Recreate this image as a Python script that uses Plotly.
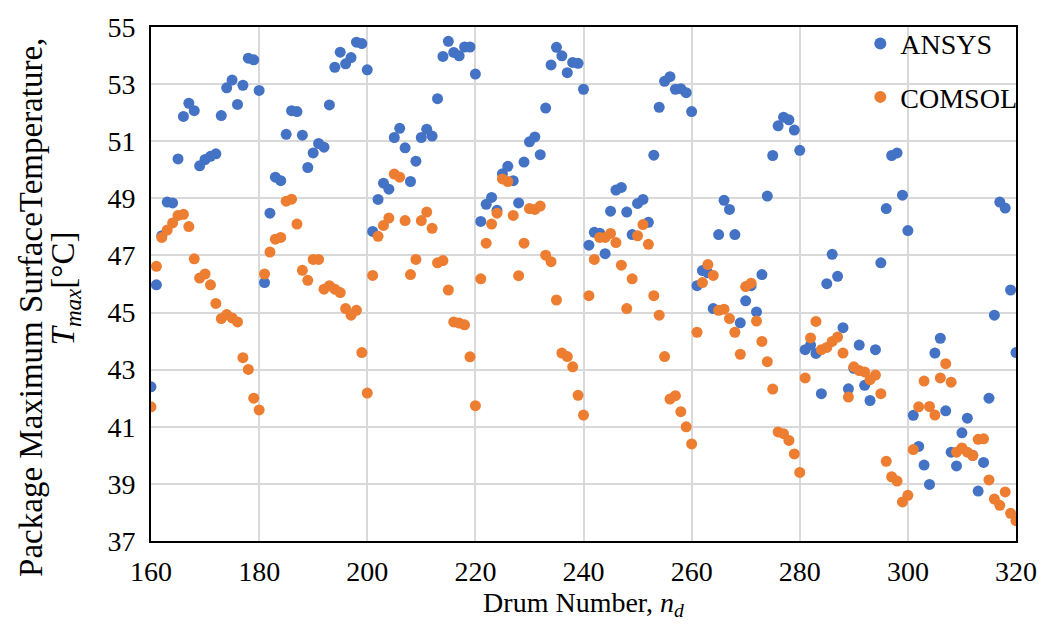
import plotly.graph_objects as go

drums = list(range(160, 321))

ansys = [
    42.4, 45.97, 47.69, 48.87, 48.84, 50.38, 51.87, 52.33, 52.07, 50.14,
    50.36, 50.47, 50.56, 51.90, 52.87, 53.14, 52.29, 52.96, 53.91, 53.85,
    52.78, 46.05, 48.48, 49.74, 49.62, 51.24, 52.07, 52.04, 51.21, 50.08,
    50.59, 50.92, 50.79, 52.27, 53.59, 54.12, 53.71, 53.93, 54.47, 54.42,
    53.50, 47.84, 48.96, 49.53, 49.32, 51.13, 51.45, 50.77, 49.59, 50.30,
    51.13, 51.42, 51.18, 52.49, 53.97, 54.50, 54.11, 53.99, 54.30, 54.30,
    53.35, 48.19, 48.79, 49.03, 48.58, 49.86, 50.12, 49.62, 48.84, 50.27,
    50.98, 51.15, 50.53, 52.16, 53.67, 54.29, 53.99, 53.40, 53.76, 53.73,
    52.82, 47.36, 47.81, 47.78, 47.06, 48.55, 49.29, 49.38, 48.52, 47.73,
    48.82, 48.96, 48.16, 50.51, 52.19, 53.10, 53.26, 52.82, 52.84, 52.70,
    52.04, 45.94, 46.47, 46.39, 45.14, 47.73, 48.93, 48.61, 47.73, 44.64,
    45.41, 45.94, 45.02, 46.33, 49.08, 50.50, 51.54, 51.84, 51.75, 51.39,
    50.68, 43.70, 43.86, 43.57, 42.16, 46.01, 47.04, 46.27, 44.47, 42.33,
    43.05, 43.86, 42.45, 41.92, 43.70, 46.74, 48.64, 50.50, 50.59, 49.11,
    47.87, 41.40, 40.31, 39.66, 38.98, 43.58, 44.10, 41.56, 40.11, 39.63,
    40.79, 41.30, 40.00, 38.75, 39.75, 42.00, 44.91, 48.87, 48.66, 45.79,
    43.60,
]

comsol = [
    41.7, 46.62, 47.63, 47.89, 48.14, 48.40, 48.44, 48.01, 46.88, 46.21,
    46.35, 45.97, 45.32, 44.79, 44.93, 44.81, 44.67, 43.42, 43.01, 42.00,
    41.59, 46.35, 47.12, 47.57, 47.63, 48.90, 48.97, 48.10, 46.48, 46.13,
    46.86, 46.86, 45.82, 45.94, 45.82, 45.70, 45.14, 44.91, 45.08, 43.60,
    42.18, 46.30, 47.67, 48.05, 48.31, 49.85, 49.74, 48.22, 46.33, 46.86,
    48.22, 48.52, 47.95, 46.74, 46.82, 45.79, 44.67, 44.63, 44.57, 43.45,
    41.74, 46.18, 47.43, 48.10, 48.48, 49.68, 49.59, 48.40, 46.29, 47.43,
    48.64, 48.61, 48.73, 47.01, 46.78, 45.44, 43.58, 43.46, 43.10, 42.10,
    41.41, 45.59, 46.86, 47.63, 47.63, 47.77, 47.45, 46.66, 45.14, 46.18,
    47.69, 48.08, 47.39, 45.59, 44.91, 43.46, 41.97, 42.09, 41.53, 41.00,
    40.40, 44.31, 46.05, 46.68, 46.30, 45.08, 45.12, 44.79, 44.31, 43.54,
    45.91, 46.03, 44.70, 43.99, 43.28, 42.32, 40.82, 40.76, 40.52, 40.05,
    39.40, 42.71, 44.11, 44.69, 43.70, 43.78, 43.99, 44.14, 43.58, 42.04,
    43.10, 42.97, 42.92, 42.65, 42.81, 42.16, 39.79, 39.25, 39.10, 38.37,
    38.60, 40.20, 41.70, 42.60, 41.71, 41.41, 42.71, 43.21, 42.56, 40.11,
    40.26, 40.11, 39.99, 40.56, 40.58, 39.14, 38.47, 38.25, 38.72, 37.97,
    37.71,
]

x_ticks = [160, 180, 200, 220, 240, 260, 280, 300, 320]
y_ticks = [37, 39, 41, 43, 45, 47, 49, 51, 53, 55]
y_title_lines = ["Package Maximum SurfaceTemperature,", "<i>T<sub>max</sub></i>[°C]"]

FONT = "Liberation Serif, Times New Roman, serif"

fig = go.Figure()
fig.add_trace(go.Scatter(
    x=drums, y=ansys, mode="markers", name="ANSYS", legendgroup="a",
    marker=dict(color="#4472C4", size=11),
))
fig.add_trace(go.Scatter(
    x=drums, y=comsol, mode="markers", name="COMSOL", legendgroup="c",
    marker=dict(color="#ED7D31", size=11),
))

# two-line y-axis title drawn as rotated annotations (tight line spacing)
fig.add_annotation(text=y_title_lines[0], xref="paper", yref="paper",
                   x=-0.139, y=0.455, textangle=-90, showarrow=False,
                   xanchor="center", yanchor="middle",
                   font=dict(family=FONT, size=33, color="black"))
fig.add_annotation(text=y_title_lines[1], xref="paper", yref="paper",
                   x=-0.099, y=0.492, textangle=-90, showarrow=False,
                   xanchor="center", yanchor="middle",
                   font=dict(family=FONT, size=33, color="black"))

fig.update_layout(
    width=1049, height=632,
    margin=dict(l=151, r=27, t=20, b=91),
    paper_bgcolor="white", plot_bgcolor="white",
    font=dict(family=FONT, size=28, color="black"),
    showlegend=True,
    legend=dict(
        x=0.82, y=1.016, xanchor="left", yanchor="top",
        bgcolor="rgba(0,0,0,0)", borderwidth=0,
        font=dict(family=FONT, size=28, color="black"),
        traceorder="grouped", tracegroupgap=14, itemsizing="constant",
        itemwidth=30,
    ),
    xaxis=dict(
        range=[160, 320], tickvals=x_ticks, ticktext=[str(v) for v in x_ticks],
        showgrid=True, gridcolor="#d9d9d9", gridwidth=1.5,
        showline=True, linecolor="black", linewidth=2, mirror=True,
        ticks="outside", ticklen=4, tickcolor="rgba(0,0,0,0)", zeroline=False,
        tickfont=dict(family=FONT, size=28),
        title=dict(text="Drum Number, <i>n<sub>d</sub></i>",
                   font=dict(family=FONT, size=28), standoff=6),
    ),
    yaxis=dict(
        range=[37, 55], tickvals=y_ticks, ticktext=[str(v) for v in y_ticks],
        showgrid=True, gridcolor="#d9d9d9", gridwidth=1.5,
        showline=True, linecolor="black", linewidth=2, mirror=True,
        ticks="outside", ticklen=8, tickcolor="rgba(0,0,0,0)", zeroline=False,
        tickfont=dict(family=FONT, size=28),
    ),
)

fig.write_html("out.html")
